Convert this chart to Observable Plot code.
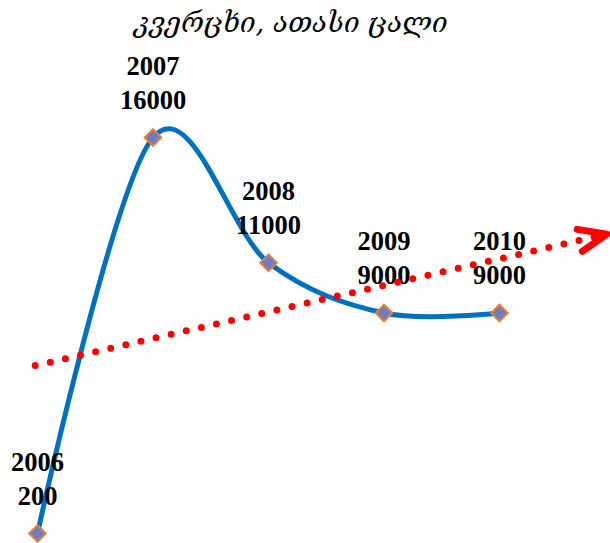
<!DOCTYPE html>
<html>
<head>
<meta charset="utf-8">
<script src="https://cdn.jsdelivr.net/npm/d3@7"></script>
<script src="https://cdn.jsdelivr.net/npm/@observablehq/plot@0.6"></script>
<style>
  html, body { margin: 0; padding: 0; background: #fff; }
  #title { height: 45px; line-height: 45px; text-align: center; padding-right: 28px;
           font-family: "DejaVu Serif", "DejaVu Sans", serif; font-style: italic; font-size: 27.5px; color: #000; }
  #chart svg { display: block; }
</style>
</head>
<body>
<div id="title">კვერცხი, ათასი ცალი</div>
<div id="chart"></div>
<script>
const titleText = "კვერცხი, ათასი ცალი";
const years = ["2006", "2007", "2008", "2009", "2010"];
const values = [200, 16000, 11000, 9000, 9000];
// extent of the linear trend line (in period units, 0 = 2006), incl. forward forecast
const trendExtent = [-0.02, 4.93];

const data = years.map((year, i) => ({i, year, value: values[i]}));

// least-squares linear trend
const mx = d3.mean(data, d => d.i), my = d3.mean(data, d => d.value);
const slope = d3.sum(data, d => (d.i - mx) * (d.value - my)) / d3.sum(data, d => (d.i - mx) ** 2);
const intercept = my - slope * mx;
const trend = trendExtent.map(t => ({i: t, value: intercept + slope * t}));

const W = 610, H = 498;
const base = {
  width: W, height: H,
  marginLeft: 37, marginRight: 111, marginTop: 92, marginBottom: 10,
  x: {type: "linear", domain: [0, 4], axis: null},
  y: {type: "linear", domain: [200, 16000], axis: null}
};

// first pass to obtain the pixel direction of the trend line
const probe = Plot.plot({...base, marks: [Plot.line(trend, {x: "i", y: "value"})]});
const sx = probe.scale("x"), sy = probe.scale("y");
const dxp = sx.apply(trend[1].i) - sx.apply(trend[0].i);
const dyp = sy.apply(trend[1].value) - sy.apply(trend[0].value);
const angle = Math.atan2(dxp, -dyp) * 180 / Math.PI;

const chevron = {
  draw(context, l) {
    const half = 22 * Math.PI / 180;
    const w = l * Math.sin(half), h = l * Math.cos(half);
    context.moveTo(-w, -l + h);
    context.lineTo(0, -l);
    context.lineTo(w, -l + h);
  }
};

const labelFont = {fontFamily: "Liberation Serif, Times New Roman, serif", fontSize: 26.5, fontWeight: "bold", fill: "#000", textAnchor: "middle"};

const chart = Plot.plot({
  ...base,
  marks: [
    Plot.line(data, {x: "i", y: "value", curve: "cardinal", stroke: "#0070C0", strokeWidth: 5}),
    Plot.dot(data, {x: "i", y: "value", symbol: "diamond2", r: 7.5, fill: "#6B7FC0", stroke: "#ED7D31", strokeWidth: 2}),
    Plot.text(data, {x: "i", y: "value", text: "year", dy: -71, ...labelFont}),
    Plot.text(data, {x: "i", y: "value", text: d => String(d.value), dy: -37, ...labelFont}),
    Plot.line(trend, {x: "i", y: "value", stroke: "#FF0000", strokeWidth: 7, strokeDasharray: "0 15.5", strokeLinecap: "round"}),
    Plot.vector([trend[1]], {x: "i", y: "value", length: 30, rotate: angle, anchor: "end", shape: chevron,
      stroke: "#FF0000", strokeWidth: 7, strokeLinecap: "round", strokeLinejoin: "round"})
  ]
});
document.getElementById("chart").appendChild(chart);
</script>
</body>
</html>
